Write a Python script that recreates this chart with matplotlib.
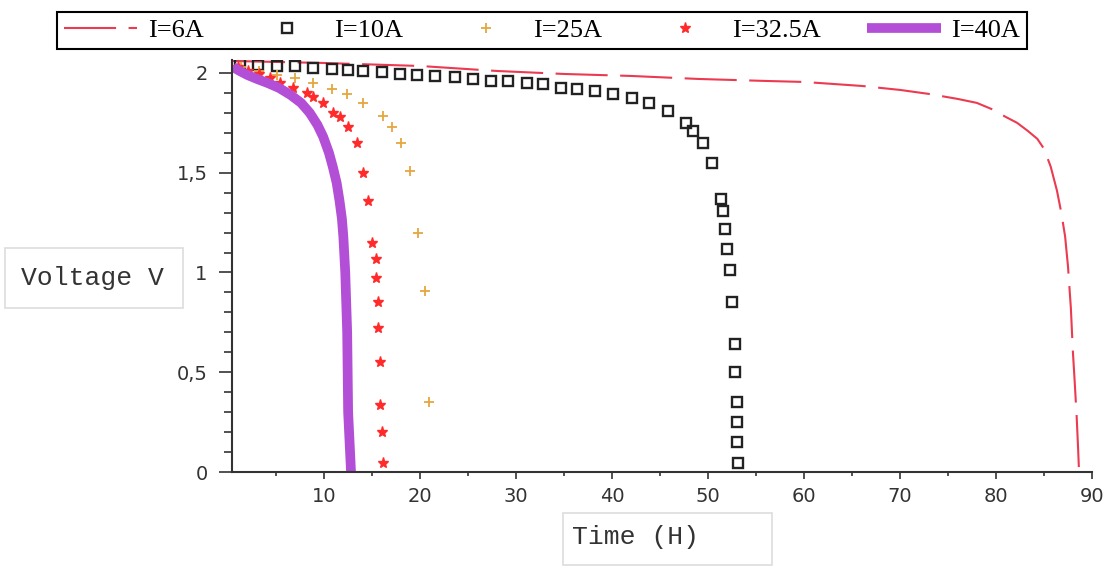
import matplotlib
matplotlib.use("Agg")
import matplotlib.pyplot as plt
from matplotlib.patches import Rectangle
from matplotlib.ticker import MultipleLocator, FuncFormatter

# I=6A (dashed line)
t_6 = [0.5, 10, 20, 28, 35, 42, 49, 56, 60, 63, 66, 70, 73, 76, 78, 79.5, 81,
       82.2, 83.3, 84.3, 85.0, 85.7, 86.35, 86.8, 87.2, 87.5, 87.8, 88.0,
       88.2, 88.4, 88.55, 88.65]
v_6 = [2.06, 2.05, 2.035, 2.01, 1.995, 1.985, 1.97, 1.96, 1.955, 1.945, 1.935,
       1.915, 1.895, 1.87, 1.85, 1.82, 1.78, 1.75, 1.71, 1.67, 1.62, 1.53,
       1.41, 1.30, 1.18, 1.03, 0.82, 0.61, 0.45, 0.28, 0.12, 0.0]

# I=10A (squares)
t_10 = [1.25, 3.13, 5.10, 6.98, 8.85, 10.83, 12.5, 14.06, 16.04, 17.92, 19.69,
        21.56, 23.65, 25.52, 27.40, 29.17, 31.15, 32.81, 34.69, 36.35, 38.23,
        40.10, 42.08, 43.85, 45.83, 47.71, 48.44, 49.48, 50.42, 51.35, 51.56,
        51.77, 51.98, 52.29, 52.5, 52.81, 52.81, 53.02, 53.02, 53.02, 53.13]
v_10 = [2.045, 2.04, 2.035, 2.035, 2.025, 2.02, 2.015, 2.01, 2.005, 1.995, 1.99,
        1.985, 1.98, 1.97, 1.96, 1.96, 1.95, 1.945, 1.925, 1.92, 1.91,
        1.895, 1.875, 1.85, 1.81, 1.75, 1.71, 1.65, 1.55, 1.37, 1.31,
        1.22, 1.12, 1.01, 0.85, 0.64, 0.50, 0.35, 0.25, 0.15, 0.045]

# I=25A (plus)
t_25 = [1.3, 3.2, 5.1, 6.98, 8.85, 10.83, 12.4, 14.06, 16.15, 17.08, 18.02,
        18.96, 19.79, 20.52, 20.94]
v_25 = [2.03, 2.01, 1.99, 1.975, 1.95, 1.92, 1.895, 1.85, 1.785, 1.73, 1.65,
        1.51, 1.20, 0.907, 0.35]

# I=32.5A (stars)
t_32 = [1.0, 2.1, 3.2, 4.38, 5.42, 6.77, 8.23, 8.85, 9.9, 10.94, 11.67, 12.5,
        13.44, 14.06, 14.58, 15.0, 15.42, 15.42, 15.63, 15.63, 15.83, 15.83,
        16.04, 16.15]
v_32 = [2.03, 2.01, 1.995, 1.975, 1.95, 1.925, 1.90, 1.88, 1.85, 1.80, 1.78,
        1.73, 1.65, 1.50, 1.36, 1.15, 1.07, 0.97, 0.85, 0.72, 0.55, 0.335,
        0.20, 0.045]

# I=40A (thick line)
t_40 = [0.5, 1.2, 2.0, 3.0, 4.1, 5.3, 6.5, 7.6, 8.5, 9.3, 9.9, 10.5, 10.9,
        11.3, 11.6, 11.85, 12.0, 12.2, 12.4, 12.5, 12.8]
v_40 = [2.03, 2.01, 1.99, 1.97, 1.95, 1.925, 1.89, 1.85, 1.80, 1.74, 1.68,
        1.60, 1.53, 1.45, 1.36, 1.27, 1.18, 1.0, 0.7, 0.3, 0.0]

fig = plt.figure(figsize=(11.03, 5.70), dpi=100)
ax = fig.add_axes([232 / 1103, 98 / 570, 860 / 1103, 412 / 570])

ax.plot(t_6, v_6, color="#ec3a50", lw=1.5, ls=(0, (25, 6)), label="I=6A")
ax.plot(t_10, v_10, ls="none", marker="s", ms=7, mfc="none", mec="#222222",
        mew=1.7, label="I=10A")
ax.plot(t_25, v_25, ls="none", marker="+", ms=7, mec="#e6a640", mew=1.3,
        label="I=25A")
ax.plot(t_32, v_32, ls="none", marker="*", ms=8, color="#ff2b2b", label="I=32.5A")
ax.plot(t_40, v_40, color="#b24fd6", lw=7, solid_capstyle="butt",
        solid_joinstyle="round", label="I=40A")

ax.set_xlim(0.4, 90)
ax.set_ylim(0, 2.065)
for s in ["top", "right"]:
    ax.spines[s].set_visible(False)
for s in ["left", "bottom"]:
    ax.spines[s].set_color("#333333")
    ax.spines[s].set_linewidth(1.5)

ax.xaxis.set_major_locator(MultipleLocator(10))
ax.xaxis.set_minor_locator(MultipleLocator(5))
ax.yaxis.set_major_locator(MultipleLocator(0.5))
ax.yaxis.set_minor_locator(MultipleLocator(0.1))
ax.yaxis.set_major_formatter(FuncFormatter(lambda v, p: ("%g" % v).replace(".", ",")))
ax.tick_params(axis="y", which="major", length=9.5, width=1.2, pad=8,
               colors="#333333", labelsize=14)
ax.tick_params(axis="y", which="minor", length=6, width=1.2, colors="#333333")
ax.tick_params(axis="x", which="major", length=5, width=1.2, pad=6,
               colors="#333333", labelsize=14)
ax.tick_params(axis="x", which="minor", length=3, width=1.2, colors="#333333")

leg = fig.legend(loc="upper left", bbox_to_anchor=(57 / 1103, 1 - 12 / 570, 970 / 1103, 0),
                 mode="expand", ncol=5, borderaxespad=0, numpoints=1,
                 prop={"family": "Liberation Serif", "size": 19},
                 handlelength=2.8, handletextpad=0.4, columnspacing=0.5,
                 fancybox=False, framealpha=1, borderpad=0.25)
leg.get_frame().set_edgecolor("black")
leg.get_frame().set_linewidth(1.5)

# axis label boxes
fig.patches.append(Rectangle((5 / 1103, 262 / 570), 178 / 1103, 60 / 570,
                             transform=fig.transFigure, fc="white", ec="#dddddd", lw=1.2))
fig.text(92 / 1103, 292 / 570, "Voltage V", family="Liberation Mono", size=19,
         color="#333333", ha="center", va="center")
fig.patches.append(Rectangle((563 / 1103, 5 / 570), 209 / 1103, 52 / 570,
                             transform=fig.transFigure, fc="white", ec="#dddddd", lw=1.2))
fig.text(572 / 1103, 33 / 570, "Time (H)", family="Liberation Mono", size=19,
         color="#333333", ha="left", va="center")

fig.savefig("out.png", dpi=100)
